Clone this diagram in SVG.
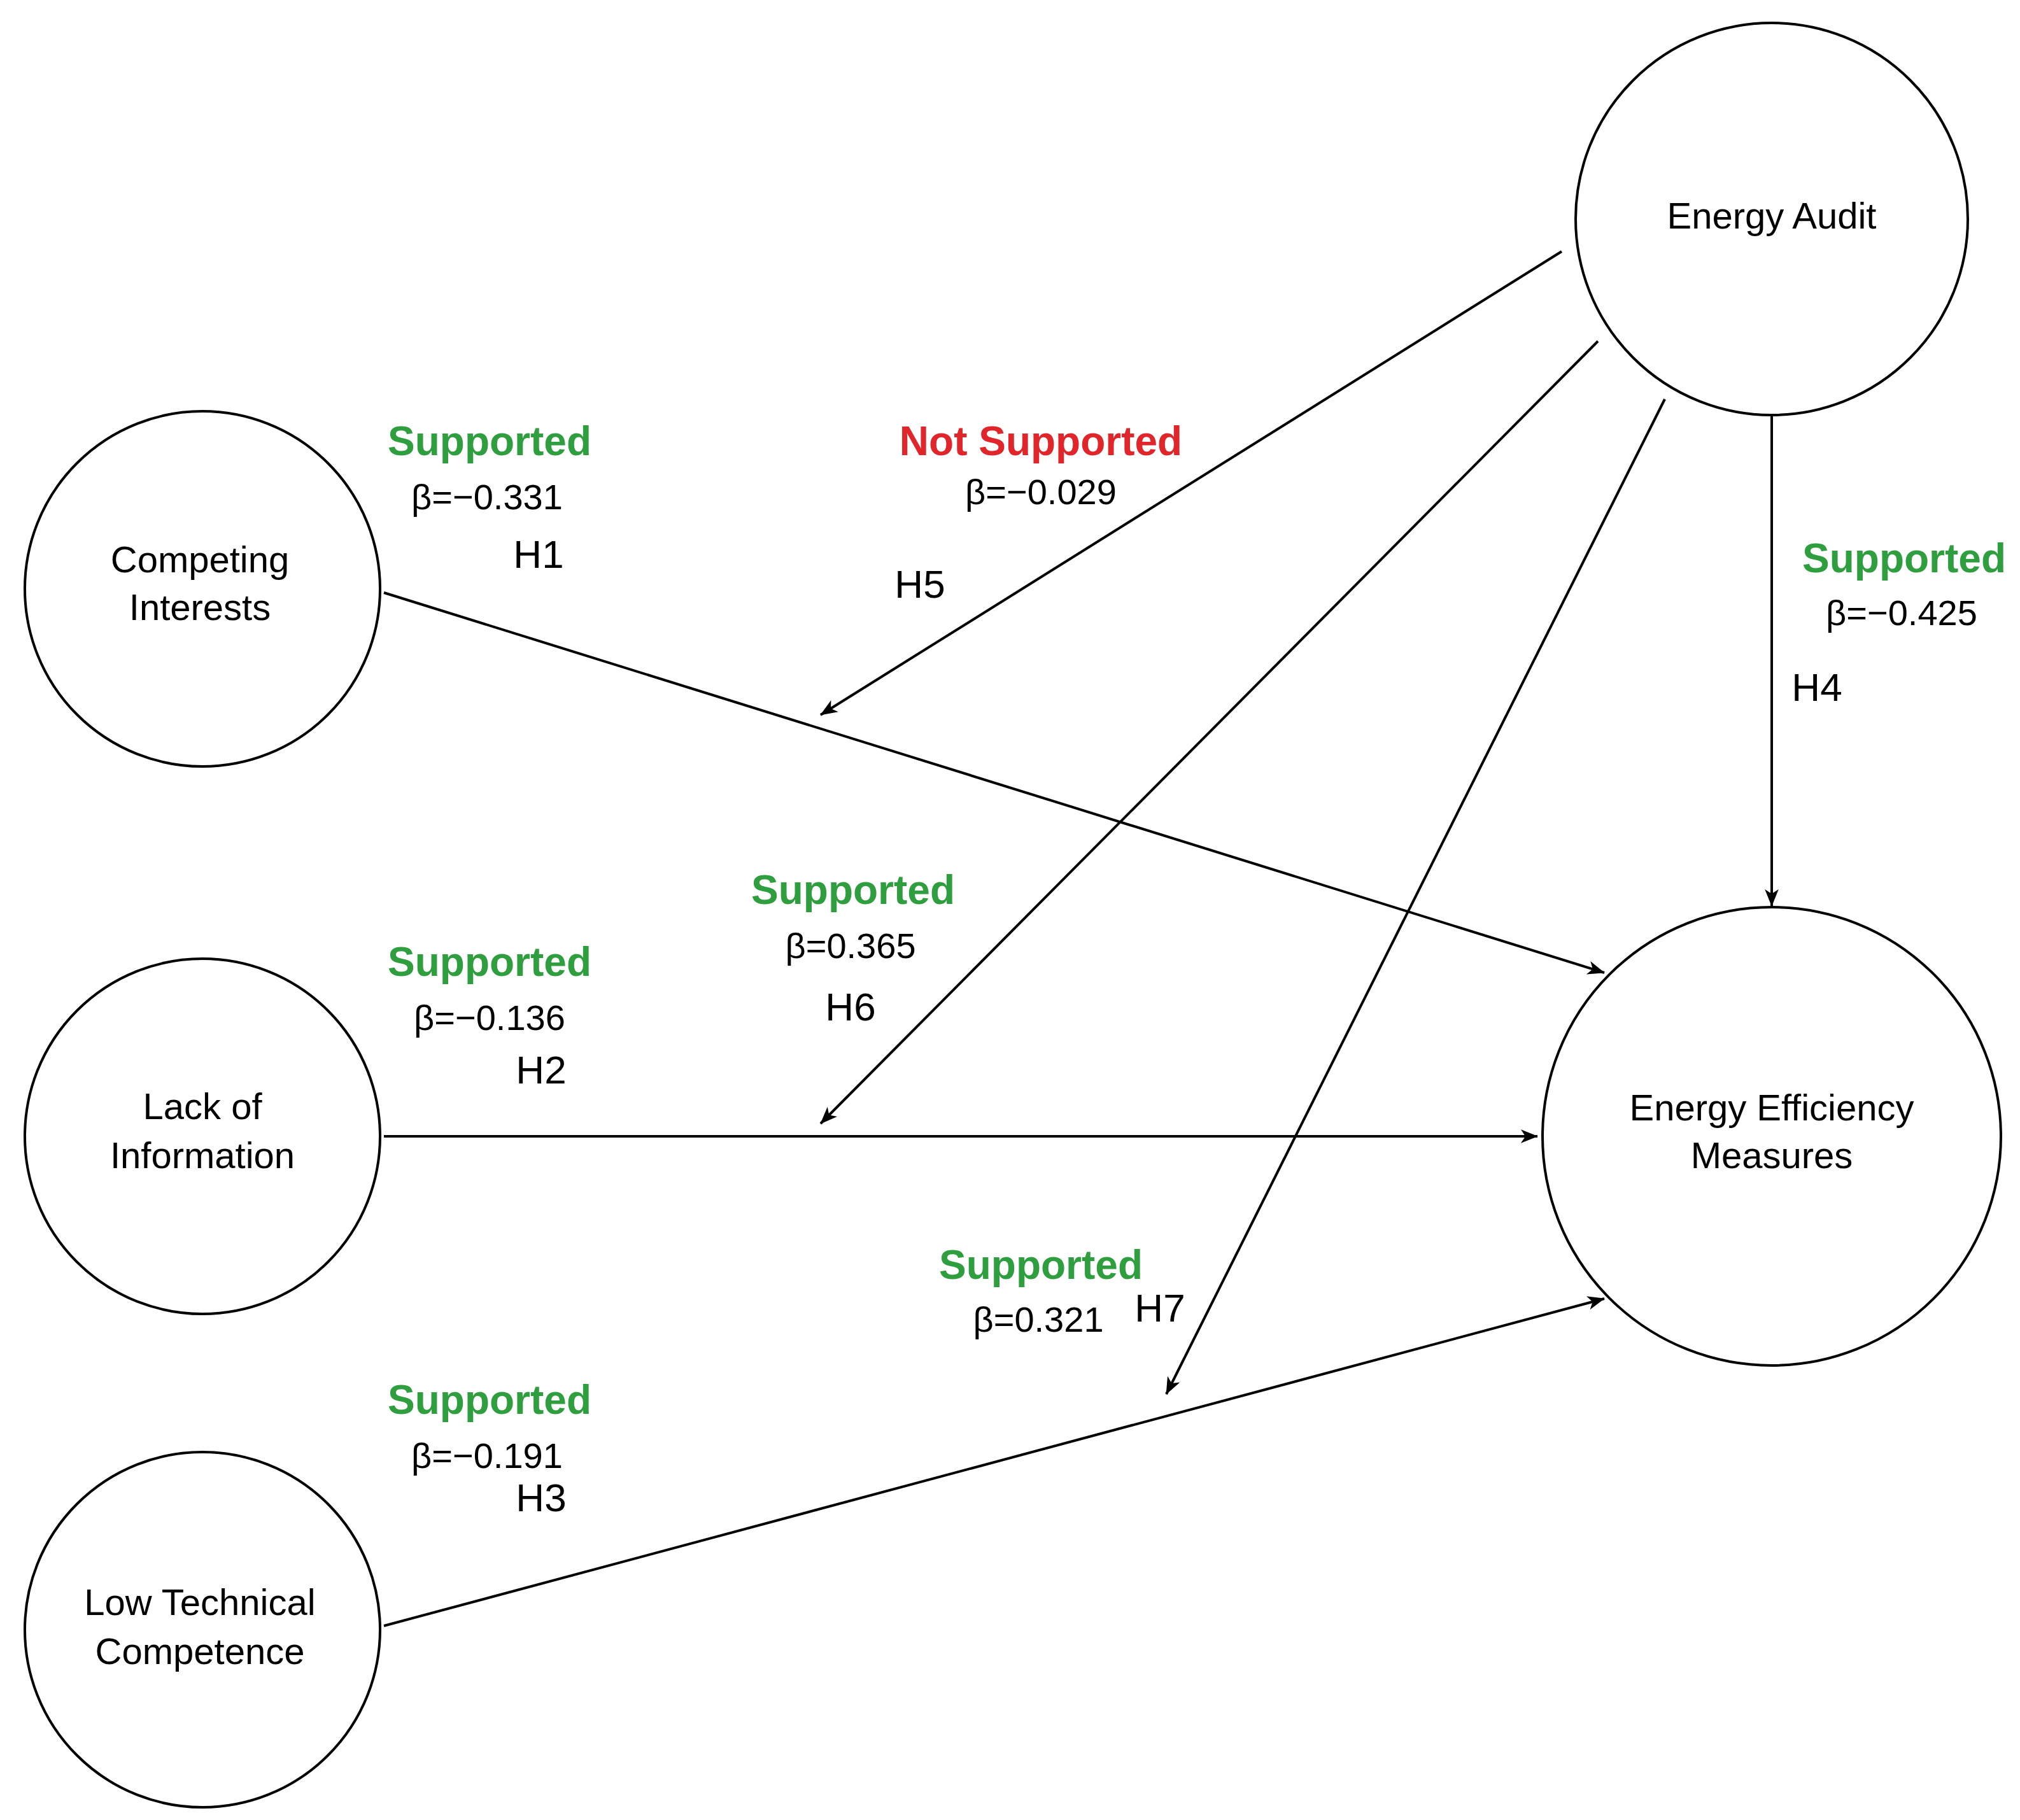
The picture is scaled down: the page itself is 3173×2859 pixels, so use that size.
<svg xmlns="http://www.w3.org/2000/svg" width="3173" height="2859" viewBox="0 0 3173 2859">
<style>
.n{fill:#fff;stroke:#000;stroke-width:4}
.t{font-family:"Liberation Sans",Arial,sans-serif;font-size:58px;text-anchor:middle;dominant-baseline:middle;fill:#000}
.s{font-family:"Liberation Sans",Arial,sans-serif;font-size:64px;font-weight:bold;text-anchor:middle;dominant-baseline:middle;fill:#2e9e3e}
.ns{fill:#e0262b}
.b{font-family:"Liberation Sans",Arial,sans-serif;font-size:56px;text-anchor:middle;dominant-baseline:middle;fill:#000}
.h{font-family:"Liberation Sans",Arial,sans-serif;font-size:62px;text-anchor:middle;dominant-baseline:middle;fill:#000}
.c{stroke:#000;stroke-width:4;fill:none;marker-end:url(#a)}
</style>
<defs><marker id="a" viewBox="0 0 10 10" refX="9" refY="5" markerWidth="9" markerHeight="9" markerUnits="userSpaceOnUse" orient="auto" overflow="visible"><path d="M-30,-12 L0,0 L-30,12 L-22,0 Z" fill="#000" transform="translate(10,5)"/></marker></defs>
<rect width="3173" height="2859" fill="#fff"/>
<g id="connectors">
<line class="c" x1="603" y1="931" x2="2520" y2="1528"/>
<line class="c" x1="603" y1="1785" x2="2415" y2="1785"/>
<line class="c" x1="603" y1="2554" x2="2520" y2="2040"/>
<line class="c" x1="2783" y1="652" x2="2783" y2="1423"/>
<line class="c" x1="2453" y1="395" x2="1289" y2="1123"/>
<line class="c" x1="2510" y1="536" x2="1289" y2="1765"/>
<line class="c" x1="2615" y1="627" x2="1832" y2="2190"/>
</g>
<g id="ci"><circle class="n" cx="318" cy="925" r="279"/><text class="t" x="314" y="884">Competing</text><text class="t" x="314" y="959">Interests</text></g>
<g id="li"><circle class="n" cx="318" cy="1785" r="279"/><text class="t" x="318" y="1743">Lack of</text><text class="t" x="318" y="1820">Information</text></g>
<g id="ltc"><circle class="n" cx="318" cy="2560" r="279"/><text class="t" x="314" y="2522">Low Technical</text><text class="t" x="314" y="2599">Competence</text></g>
<g id="ea"><circle class="n" cx="2783" cy="344" r="308"/><text class="t" x="2783" y="344">Energy Audit</text></g>
<g id="eem"><circle class="n" cx="2783" cy="1785" r="360"/><text class="t" x="2783" y="1745">Energy Efficiency</text><text class="t" x="2783" y="1820">Measures</text></g>
<g id="labels">
<text class="s" x="769" y="698">Supported</text><text class="b" x="765" y="785">β=−0.331</text><text class="h" x="846" y="876">H1</text>
<text class="s ns" x="1635" y="698">Not Supported</text><text class="b" x="1635" y="777">β=−0.029</text><text class="h" x="1445" y="923">H5</text>
<text class="s" x="2991" y="882">Supported</text><text class="b" x="2987" y="967">β=−0.425</text><text class="h" x="2854" y="1085">H4</text>
<text class="s" x="1340" y="1403">Supported</text><text class="b" x="1336" y="1490">β=0.365</text><text class="h" x="1336" y="1587">H6</text>
<text class="s" x="769" y="1516">Supported</text><text class="b" x="769" y="1603">β=−0.136</text><text class="h" x="850" y="1686">H2</text>
<text class="s" x="1635" y="1992">Supported</text><text class="b" x="1631" y="2077">β=0.321</text><text class="h" x="1822" y="2060">H7</text>
<text class="s" x="769" y="2204">Supported</text><text class="b" x="765" y="2291">β=−0.191</text><text class="h" x="850" y="2358">H3</text>
</g>
</svg>
